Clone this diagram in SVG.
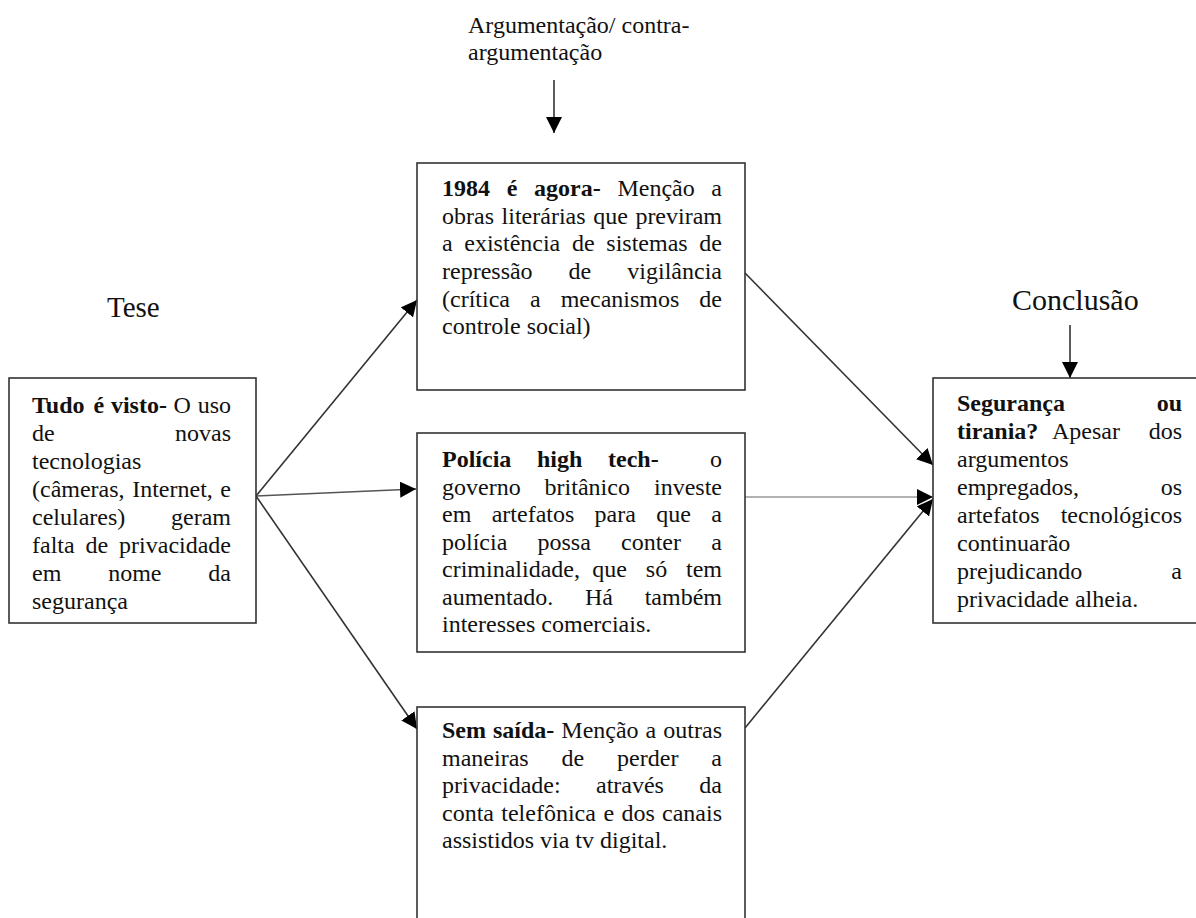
<svg xmlns="http://www.w3.org/2000/svg" width="1196" height="918" viewBox="0 0 1196 918">
<style>
text{font-family:"Liberation Serif","Times New Roman",serif;font-size:24px;fill:#111}
.b{font-weight:bold}
.e{text-anchor:end}
.h{font-size:29px}
.box{fill:#fff;stroke:#333;stroke-width:1.6}
.c{stroke:#333;stroke-width:1.6;fill:none}
.g{stroke:#999;stroke-width:1.6;fill:none}
</style>
<defs>
<marker id="ah" viewBox="0 0 16 16" refX="16" refY="8" markerWidth="16" markerHeight="16" markerUnits="userSpaceOnUse" orient="auto">
<path d="M0,0 L16,8 L0,16 z" fill="#000"/>
</marker>
</defs>
<rect width="1196" height="918" fill="#fff"/>

<g id="labels">
<text x="468" y="33">Argumentação/ contra-</text>
<text x="468" y="60">argumentação</text>
<text class="h" x="107" y="317">Tese</text>
<text class="h" x="1012" y="310" style="font-size:30px">Conclusão</text>
</g>

<g id="connectors">
<line class="c" x1="554" y1="80" x2="554" y2="133" marker-end="url(#ah)"/>
<line class="c" x1="1070" y1="325" x2="1070" y2="378" marker-end="url(#ah)"/>
<line class="c" x1="256" y1="496" x2="417" y2="300" marker-end="url(#ah)"/>
<line class="c" x1="256" y1="496" x2="416" y2="489" marker-end="url(#ah)" style="stroke:#555"/>
<line class="c" x1="256" y1="496" x2="417" y2="729" marker-end="url(#ah)"/>
<line class="c" x1="745" y1="273" x2="933" y2="465" marker-end="url(#ah)"/>
<line class="g" x1="745" y1="497" x2="933" y2="497" marker-end="url(#ah)"/>
<line class="c" x1="745" y1="728" x2="933" y2="499" marker-end="url(#ah)"/>
</g>

<g id="tese">
<rect class="box" x="9" y="378" width="247" height="245"/>
<text y="413"><tspan class="b" x="32">Tudo</tspan><tspan class="b" x="93.4">é</tspan><tspan class="b" x="110.9">visto-</tspan><tspan x="173.6">O</tspan></text>
<text class="e" x="231" y="413">uso</text>
<text x="32" y="441">de</text><text class="e" x="231" y="441">novas</text>
<text x="32" y="469">tecnologias</text>
<text x="32" y="497">(câmeras,</text><text x="132.2" y="497">Internet,</text><text class="e" x="231" y="497">e</text>
<text x="32" y="525">celulares)</text><text class="e" x="231" y="525">geram</text>
<text x="32" y="553">falta</text><text x="85.5" y="553">de</text><text class="e" x="231" y="553">privacidade</text>
<text x="32" y="581">em</text><text x="108.2" y="581">nome</text><text class="e" x="231" y="581">da</text>
<text x="32" y="609">segurança</text>
</g>

<g id="agora">
<rect class="box" x="417" y="163" width="328" height="227"/>
<text y="196"><tspan class="b" x="442">1984</tspan><tspan class="b" x="506.7">é</tspan><tspan class="b" x="534.1">agora-</tspan><tspan x="617.4">Menção</tspan></text>
<text class="e" x="722" y="196">a</text>
<text y="224"><tspan x="442">obras</tspan><tspan x="501.6">literárias</tspan><tspan x="593.2">que</tspan></text><text class="e" x="722" y="224">previram</text>
<text y="251"><tspan x="442">a</tspan><tspan x="464.3">existência</tspan><tspan x="572">de</tspan><tspan x="606.3">sistemas</tspan></text><text class="e" x="722" y="251">de</text>
<text x="442" y="279">repressão</text><text x="568.6" y="279">de</text><text class="e" x="722" y="279">vigilância</text>
<text y="307"><tspan x="442">(crítica</tspan><tspan x="530">a</tspan><tspan x="560.7">mecanismos</tspan></text><text class="e" x="722" y="307">de</text>
<text x="442" y="334">controle social)</text>
</g>

<g id="policia">
<rect class="box" x="417" y="433" width="328" height="219"/>
<text y="467"><tspan class="b" x="442">Polícia</tspan><tspan class="b" x="537">high</tspan><tspan class="b" x="608">tech-</tspan></text><text class="e" x="722" y="467">o</text>
<text y="494.5"><tspan x="442">governo</tspan><tspan x="544.6">britânico</tspan></text><text class="e" x="722" y="494.5">investe</text>
<text y="522"><tspan x="442">em</tspan><tspan x="491.7">artefatos</tspan><tspan x="594.6">para</tspan><tspan x="656.2">que</tspan></text><text class="e" x="722" y="522">a</text>
<text y="549.5"><tspan x="442">polícia</tspan><tspan x="537.5">possa</tspan><tspan x="621">conter</tspan></text><text class="e" x="722" y="549.5">a</text>
<text y="577"><tspan x="442">criminalidade,</tspan><tspan x="592.3">que</tspan><tspan x="645.8">só</tspan></text><text class="e" x="722" y="577">tem</text>
<text y="604.5"><tspan x="442">aumentado.</tspan><tspan x="585">Há</tspan></text><text class="e" x="722" y="604.5">também</text>
<text x="442" y="632">interesses comerciais.</text>
</g>

<g id="semsaida">
<rect class="box" x="417" y="707" width="328" height="230"/>
<text y="738"><tspan class="b" x="442">Sem</tspan><tspan class="b" x="493">saída-</tspan><tspan x="561.3">Menção</tspan><tspan x="645.6">a</tspan></text><text class="e" x="722" y="738">outras</text>
<text y="765.5"><tspan x="442">maneiras</tspan><tspan x="561.5">de</tspan><tspan x="617.1">perder</tspan></text><text class="e" x="722" y="765.5">a</text>
<text y="793"><tspan x="442">privacidade:</tspan><tspan x="596">através</tspan></text><text class="e" x="722" y="793">da</text>
<text y="820.5"><tspan x="442">conta</tspan><tspan x="501.3">telefônica</tspan><tspan x="603.6">e</tspan><tspan x="621.6">dos</tspan></text><text class="e" x="722" y="820.5">canais</text>
<text x="442" y="848">assistidos via tv digital.</text>
</g>

<g id="conclusao">
<rect class="box" x="933" y="378" width="280" height="245"/>
<text class="b" x="957" y="411">Segurança</text><text class="b e" x="1182" y="411">ou</text>
<text y="439"><tspan class="b" x="957">tirania?</tspan><tspan x="1052">Apesar</tspan></text><text class="e" x="1182" y="439">dos</text>
<text x="957" y="467">argumentos</text>
<text x="957" y="495">empregados,</text><text class="e" x="1182" y="495">os</text>
<text x="957" y="523">artefatos</text><text class="e" x="1182" y="523">tecnológicos</text>
<text x="957" y="551">continuarão</text>
<text x="957" y="579">prejudicando</text><text class="e" x="1182" y="579">a</text>
<text x="957" y="607">privacidade alheia.</text>
</g>
</svg>
